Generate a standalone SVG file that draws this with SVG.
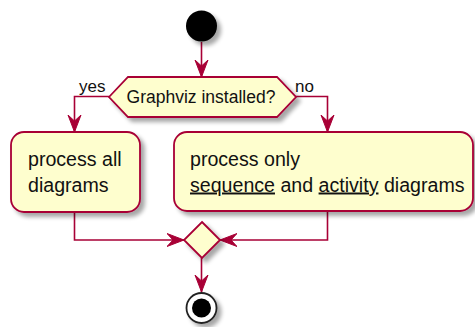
<svg xmlns="http://www.w3.org/2000/svg" width="475" height="327" viewBox="0 0 475 327">
<style>
.node{fill:#FEFECE;stroke:#A80036;stroke-width:1.8}
.edge{fill:none;stroke:#A80036;stroke-width:1.6}
.t{font-family:"Liberation Sans",Arial,sans-serif;fill:#111}
.act{font-size:19.6px}
.dec{font-size:17.5px}
.lbl{font-size:17px}
</style>
<defs>
<filter id="sh" x="-20%" y="-20%" width="150%" height="150%">
<feGaussianBlur in="SourceAlpha" stdDeviation="2"/>
<feOffset dx="4" dy="4" result="b"/>
<feComponentTransfer><feFuncA type="linear" slope="0.35"/></feComponentTransfer>
<feMerge><feMergeNode/><feMergeNode in="SourceGraphic"/></feMerge>
</filter>
<marker id="arr" viewBox="-17 -8 18 16" refX="0" refY="0" markerWidth="18" markerHeight="16" markerUnits="userSpaceOnUse" orient="auto">
<path d="M0,0 L-17,-6.5 L-11,0 L-17,6.5 Z" fill="#A80036" stroke="#A80036" stroke-width="1"/>
</marker>
</defs>
<g id="connectors">
<path class="edge" d="M201.5,42 V77" marker-end="url(#arr)"/>
<path class="edge" d="M109,96.5 H74.5 V132" marker-end="url(#arr)"/>
<path class="edge" d="M296,96.5 H327.5 V132" marker-end="url(#arr)"/>
<path class="edge" d="M74.5,212 V240 H184" marker-end="url(#arr)"/>
<path class="edge" d="M327.5,211 V240 H220" marker-end="url(#arr)"/>
<path class="edge" d="M201.5,258 V292" marker-end="url(#arr)"/>
<text class="t lbl" x="79" y="92">yes</text>
<text class="t lbl" x="295" y="92">no</text>
</g>
<g id="start" filter="url(#sh)">
<circle cx="201.5" cy="26" r="15.5" fill="#000"/>
</g>
<g id="decision">
<polygon class="node" filter="url(#sh)" points="109,97 128,77 277,77 296,97 277,117 128,117"/>
<text class="t dec" x="201" y="103" text-anchor="middle">Graphviz installed?</text>
</g>
<g id="process-all">
<rect class="node" filter="url(#sh)" x="11" y="132" width="129" height="80" rx="13" ry="13"/>
<text class="t act" x="28" y="166">process all</text>
<text class="t act" x="28" y="191.5">diagrams</text>
</g>
<g id="process-only">
<rect class="node" filter="url(#sh)" x="174" y="132" width="299" height="79" rx="13" ry="13"/>
<text class="t act" x="190" y="166">process only</text>
<text class="t act" x="190" y="191.5"><tspan text-decoration="underline">sequence</tspan> and <tspan text-decoration="underline">activity</tspan> diagrams</text>
</g>
<g id="merge">
<polygon class="node" filter="url(#sh)" points="202,222 220,240 202,258 184,240"/>
</g>
<g id="end" filter="url(#sh)">
<circle cx="201.5" cy="308" r="15" fill="#fff" stroke="#222" stroke-width="1.8"/>
<circle cx="201.5" cy="308" r="9.5" fill="#000"/>
</g>
</svg>
